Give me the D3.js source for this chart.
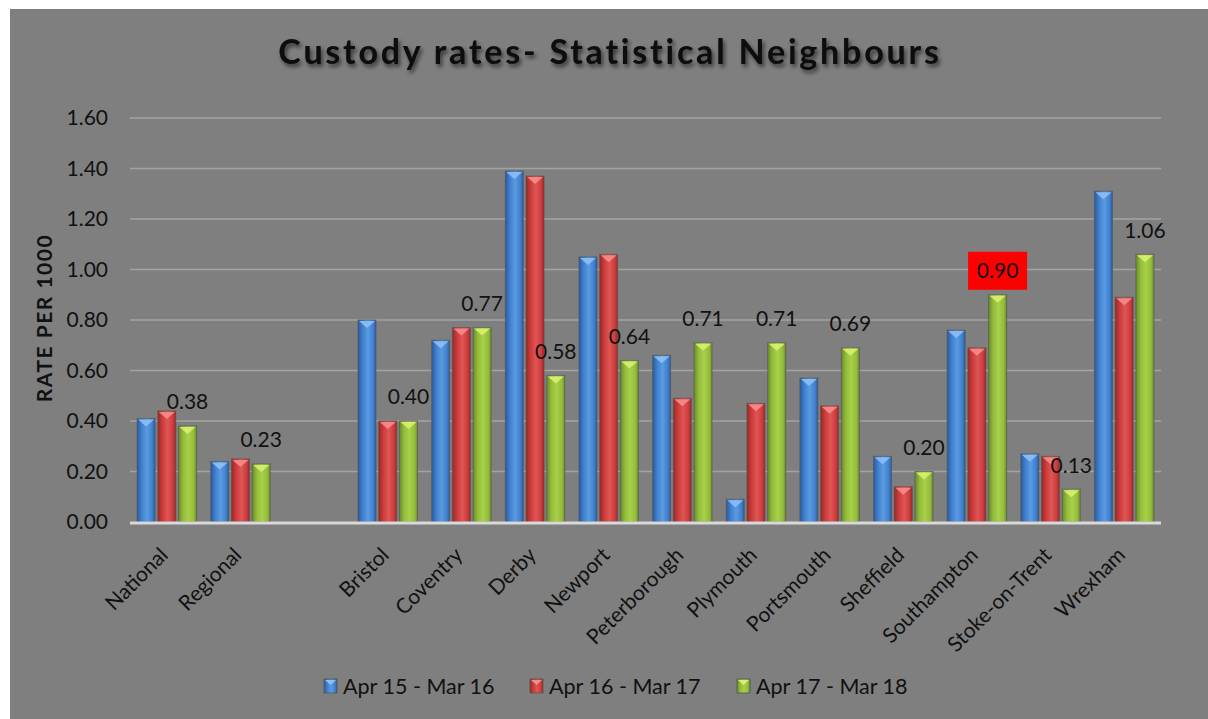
<!DOCTYPE html>
<html><head><meta charset="utf-8">
<script src="https://cdn.jsdelivr.net/npm/d3@7"></script>
<style>
html,body{margin:0;padding:0;background:#fff;}
svg{display:block;font-family:Lato,"Open Sans",sans-serif;}
</style></head>
<body>
<svg id="chart" width="1208" height="719"></svg>
<script>
const categories = ["National","Regional"," ","Bristol","Coventry","Derby","Newport","Peterborough","Plymouth","Portsmouth","Sheffield","Southampton","Stoke-on-Trent","Wrexham"];
const seriesNames = ["Apr 15 - Mar 16","Apr 16 - Mar 17","Apr 17 - Mar 18"];
const apr15 = [0.41,0.24,null,0.80,0.72,1.39,1.05,0.66,0.09,0.57,0.26,0.76,0.27,1.31];
const apr16 = [0.44,0.25,null,0.40,0.77,1.37,1.06,0.49,0.47,0.46,0.14,0.69,0.26,0.89];
const apr17 = [0.38,0.23,null,0.40,0.77,0.58,0.64,0.71,0.71,0.69,0.20,0.90,0.13,1.06];
const yTicks = [0,0.2,0.4,0.6,0.8,1.0,1.2,1.4,1.6];
const highlighted = "Southampton";

const svg = d3.select("#chart");
svg.append("rect").attr("x",10).attr("y",9).attr("width",1198).attr("height",710).attr("fill","#7f7f7f");

const defs = svg.append("defs");
const palettes = [
  {dark:"#2a5a9a", mid:"#3f7fcf", light:"#5b9be0", tri:"#8cc0f5"},
  {dark:"#9a2626", mid:"#cc3b3b", light:"#e05555", tri:"#f58c8c"},
  {dark:"#6a8a25", mid:"#93bc3c", light:"#a8d048", tri:"#d8f070"}
];
palettes.forEach((p,i)=>{
  const g = defs.append("linearGradient").attr("id","grad"+i).attr("x1","0").attr("x2","1").attr("y1","0").attr("y2","0");
  g.append("stop").attr("offset","0%").attr("stop-color",p.dark);
  g.append("stop").attr("offset","25%").attr("stop-color",p.mid);
  g.append("stop").attr("offset","55%").attr("stop-color",p.light);
  g.append("stop").attr("offset","85%").attr("stop-color",p.mid);
  g.append("stop").attr("offset","100%").attr("stop-color",p.dark);
});
const tf = defs.append("filter").attr("id","tshadow").attr("x","-10%").attr("y","-30%").attr("width","120%").attr("height","180%");
tf.append("feDropShadow").attr("dx",2).attr("dy",3).attr("stdDeviation",2).attr("flood-color","#000").attr("flood-opacity",0.6);

const x0 = d3.scaleBand().domain(categories).range([130,1161]).paddingInner(0).paddingOuter(0);
const x1 = d3.scaleBand().domain(seriesNames).range([0,59.5]).paddingInner(0.13);
const y = d3.scaleLinear().domain([0,1.6]).range([522,118]);

// gridlines
svg.append("g").selectAll("line").data(yTicks.filter(d=>d>0)).join("line")
  .attr("x1",130).attr("x2",1161).attr("y1",d=>y(d)).attr("y2",d=>y(d))
  .attr("stroke","#a3a3a3").attr("stroke-width",1.5);

// y axis labels
const yAxis = d3.axisLeft(y).tickValues(yTicks).tickFormat(d3.format(".2f")).tickSize(0).tickPadding(0);
const ya = svg.append("g").attr("transform","translate(108,0)").call(yAxis);
ya.select(".domain").remove();
ya.selectAll("text").attr("font-size",21).attr("fill","#111").attr("font-family","Lato,'Open Sans',sans-serif");

svg.append("text").attr("transform","translate(52,318) rotate(-90)").attr("text-anchor","middle")
  .attr("font-size",21).attr("font-weight","bold").attr("letter-spacing",1.5).attr("fill","#111").text("RATE PER 1000");

// bars
const allSeries = [apr15,apr16,apr17];
const groups = svg.append("g").selectAll("g").data(categories).join("g")
  .attr("transform",d=>`translate(${x0(d)+x0.bandwidth()/2-29.75},0)`);
allSeries.forEach((vals,si)=>{
  groups.each(function(cat,ci){
    const v = vals[ci];
    if(v==null) return;
    const g = d3.select(this);
    const bx = x1(seriesNames[si]), bw = x1.bandwidth();
    g.append("rect").attr("x",bx).attr("y",y(v)).attr("width",bw).attr("height",y(0)-y(v))
      .attr("fill",`url(#grad${si})`).attr("stroke","#555").attr("stroke-opacity",0.6).attr("stroke-width",1);
    g.append("path").attr("d",`M${bx+1},${y(v)+1}L${bx+bw-1},${y(v)+1}L${bx+bw/2},${y(v)+Math.min(8,y(0)-y(v))}Z`)
      .attr("fill",palettes[si].tri).attr("opacity",0.9);
  });
});

// baseline
svg.append("line").attr("x1",130).attr("x2",1161).attr("y1",y(0)+1).attr("y2",y(0)+1).attr("stroke","#d9d9d9").attr("stroke-width",3);

// data labels (third series)
const labelG = svg.append("g");
categories.forEach((cat,ci)=>{
  const v = apr17[ci];
  if(v==null) return;
  const cx = x0(cat)+x0.bandwidth()/2-29.75+x1(seriesNames[2])+x1.bandwidth()/2;
  const cy = y(v)-24;
  if(cat===highlighted){
    labelG.append("rect").attr("x",cx-29.5).attr("y",cy-19).attr("width",59).attr("height",38).attr("fill","#ff0000");
  }
  labelG.append("text").attr("x",cx).attr("y",cy).attr("dy","0.35em").attr("text-anchor","middle")
    .attr("font-size",21).attr("fill","#111").text(d3.format(".2f")(v));
});

// x labels
svg.append("g").selectAll("text").data(categories.filter(c=>c.trim()!=="")).join("text")
  .attr("transform",d=>`translate(${x0(d)+x0.bandwidth()/2-8},546) rotate(-45)`)
  .attr("text-anchor","end").attr("dy","0.7em").attr("font-size",21).attr("fill","#111").text(d=>d);

// title
svg.append("text").attr("x",610).attr("y",64).attr("text-anchor","middle")
  .attr("font-size",34).attr("font-weight","bold").attr("fill","#0a0a0a").attr("letter-spacing",2.8)
  .attr("filter","url(#tshadow)").text("Custody rates- Statistical Neighbours");

// legend
const legendX = [324,530,737];
seriesNames.forEach((s,i)=>{
  const g = svg.append("g").attr("transform",`translate(${legendX[i]},679)`);
  g.append("rect").attr("width",13).attr("height",14).attr("fill",`url(#grad${i})`).attr("stroke","#555").attr("stroke-width",0.8);
  g.append("path").attr("d","M1,1L12,1L6.5,6Z").attr("fill",palettes[i].tri);
  g.append("text").attr("x",19).attr("y",7).attr("dy","0.35em").attr("font-size",21.5).attr("fill","#111").text(s);
});
</script>
</body></html>
